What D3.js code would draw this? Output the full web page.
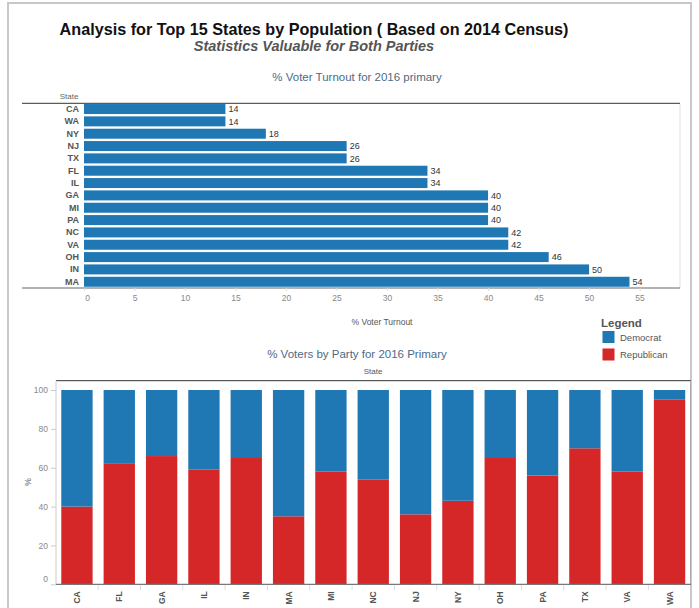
<!DOCTYPE html>
<html>
<head>
<meta charset="utf-8">
<script src="https://cdn.jsdelivr.net/npm/d3@7"></script>
<style>
  html, body { margin: 0; padding: 0; background: #fff; }
  svg { display: block; font-family: "Liberation Sans", Arial, sans-serif; }
</style>
</head>
<body>
<svg id="chart" width="699" height="608"></svg>
<script>
// Turnout chart (sorted ascending by turnout)
const turnoutStates = ["CA","WA","NY","NJ","TX","FL","IL","GA","MI","PA","NC","VA","OH","IN","MA"];
const turnoutValues = [14,14,18,26,26,34,34,40,40,40,42,42,46,50,54];
const turnoutTicks = [0,5,10,15,20,25,30,35,40,45,50,55];

// Party split chart (alphabetical)
const partyStates = ["CA","FL","GA","IL","IN","MA","MI","NC","NJ","NY","OH","PA","TX","VA","WA"];
const republicanPct = [40,62,66,59,65,35,58,54,36,43,65,56,70,58,95];
const democratPct = republicanPct.map(r => 100 - r);
const pctTicks = [0,20,40,60,80,100];

const parties = ["Democrat","Republican"];
const partyColors = ["#1f77b4","#d62728"];

const svg = d3.select("#chart");

// outer frame
svg.append("rect").attr("x", 8).attr("y", 3).attr("width", 683).attr("height", 640)
  .attr("fill", "none").attr("stroke", "#c8c8c8").attr("stroke-width", 2);

// titles
svg.append("text").attr("x", 314).attr("y", 35).attr("text-anchor", "middle")
  .attr("font-size", 16.2).attr("font-weight", "bold").attr("fill", "#111")
  .text("Analysis for Top 15 States by Population ( Based on 2014 Census)");
svg.append("text").attr("x", 314).attr("y", 51).attr("text-anchor", "middle")
  .attr("font-size", 14.5).attr("font-weight", "bold").attr("font-style", "italic").attr("fill", "#555")
  .text("Statistics Valuable for Both Parties");

// ---------- Turnout bar chart ----------
const tx = d3.scaleLinear().domain([0, 59]).range([84, 680]);
const ty = d3.scaleBand().domain(turnoutStates).range([103.3, 287.5]).paddingInner(0.19).paddingOuter(0.06);

svg.append("text").attr("x", 357).attr("y", 81).attr("text-anchor", "middle")
  .attr("font-size", 11.5).attr("fill", "#4e6a85").text("% Voter Turnout for 2016 primary");
svg.append("text").attr("x", 69).attr("y", 99).attr("text-anchor", "middle")
  .attr("font-size", 8).attr("fill", "#666").text("State");

// right edge of pane
svg.append("line").attr("x1", 680).attr("x2", 680).attr("y1", 103.3).attr("y2", 288)
  .attr("stroke", "#e0e0e0");

const tg = svg.append("g");
tg.selectAll("rect").data(turnoutStates).join("rect")
  .attr("x", tx(0)).attr("y", d => ty(d))
  .attr("width", (d, i) => tx(turnoutValues[i]) - tx(0))
  .attr("height", ty.bandwidth())
  .attr("fill", partyColors[0]);
tg.selectAll("text.val").data(turnoutStates).join("text").attr("class", "val")
  .attr("x", (d, i) => tx(turnoutValues[i]) + 3)
  .attr("y", d => ty(d) + ty.bandwidth() / 2)
  .attr("dy", "0.35em").attr("font-size", 9).attr("fill", "#333")
  .text((d, i) => turnoutValues[i]);

// state axis
const yAxisT = d3.axisLeft(ty).tickSize(0).tickPadding(5);
const gyT = svg.append("g").attr("transform", "translate(84,0)").call(yAxisT);
gyT.select(".domain").remove();
gyT.selectAll("text").attr("font-size", 9).attr("font-weight", "bold").attr("fill", "#555")
  .attr("font-family", "Liberation Sans, Arial, sans-serif");

// top and bottom rules
svg.append("line").attr("x1", 22).attr("x2", 680).attr("y1", 103.3).attr("y2", 103.3)
  .attr("stroke", "#333").attr("stroke-width", 1);
svg.append("line").attr("x1", 22).attr("x2", 680).attr("y1", 288).attr("y2", 288)
  .attr("stroke", "#999").attr("stroke-width", 1.5);

// value axis
const xAxisT = d3.axisBottom(tx).tickValues(turnoutTicks).tickSize(3).tickPadding(4);
const gxT = svg.append("g").attr("transform", "translate(0,288)").call(xAxisT);
gxT.select(".domain").remove();
gxT.selectAll(".tick line").attr("stroke", "#ddd");
gxT.selectAll("text").attr("font-size", 8.5).attr("fill", "#888")
  .attr("font-family", "Liberation Sans, Arial, sans-serif");
gxT.selectAll(".tick").filter(d => d === 0).select("text").attr("dx", 3);

svg.append("text").attr("x", 382).attr("y", 325).attr("text-anchor", "middle")
  .attr("font-size", 8.5).attr("fill", "#555").text("% Voter Turnout");

// ---------- Legend ----------
svg.append("text").attr("x", 601).attr("y", 327).attr("font-size", 11.5)
  .attr("font-weight", "bold").attr("fill", "#555").text("Legend");
const lg = svg.append("g");
parties.forEach((p, i) => {
  lg.append("rect").attr("x", 602.5).attr("y", 331 + i * 17.5).attr("width", 12).attr("height", 12)
    .attr("fill", partyColors[i]);
  lg.append("text").attr("x", 620).attr("y", 337.5 + i * 17.5).attr("dy", "0.35em")
    .attr("font-size", 9.5).attr("fill", "#555").text(p);
});

// ---------- Party split stacked bars ----------
svg.append("text").attr("x", 357).attr("y", 358).attr("text-anchor", "middle")
  .attr("font-size", 11.5).attr("fill", "#4e6a85").text("% Voters by Party for 2016 Primary");
svg.append("text").attr("x", 373).attr("y", 374).attr("text-anchor", "middle")
  .attr("font-size", 8).attr("fill", "#555").text("State");

const px = d3.scaleBand().domain(partyStates).range([56, 690.5]).paddingInner(0.26).paddingOuter(0.125);
const py = d3.scaleLinear().domain([0, 100]).range([584.3, 390]);

const rows = partyStates.map((s, i) => ({ state: s, Democrat: democratPct[i], Republican: republicanPct[i] }));
const stack = d3.stack().keys(["Republican", "Democrat"])(rows);
const colorOf = d3.scaleOrdinal().domain(parties).range(partyColors);

svg.append("g").selectAll("g").data(stack).join("g")
  .attr("fill", d => colorOf(d.key))
  .selectAll("rect").data(d => d).join("rect")
  .attr("x", d => px(d.data.state))
  .attr("y", d => py(d[1]))
  .attr("width", px.bandwidth())
  .attr("height", d => py(d[0]) - py(d[1]));

// frame lines of the pane
svg.append("line").attr("x1", 56).attr("x2", 691).attr("y1", 380.7).attr("y2", 380.7)
  .attr("stroke", "#333");
svg.append("line").attr("x1", 56).attr("x2", 56).attr("y1", 380.7).attr("y2", 584.3)
  .attr("stroke", "#ccc");
svg.append("line").attr("x1", 690.5).attr("x2", 690.5).attr("y1", 380.7).attr("y2", 584.3)
  .attr("stroke", "#aaa");

// y axis
const yAxisP = d3.axisLeft(py).tickValues(pctTicks).tickSize(5).tickPadding(3);
const gyP = svg.append("g").attr("transform", "translate(56,0)").call(yAxisP);
gyP.select(".domain").remove();
gyP.selectAll(".tick line").attr("stroke", "#ccc");
gyP.selectAll("text").attr("font-size", 8.5).attr("fill", "#888")
  .attr("font-family", "Liberation Sans, Arial, sans-serif");
gyP.selectAll(".tick").filter(d => d === 0).select("text").attr("dy", "-0.35em");

svg.append("text").attr("transform", "translate(31,482) rotate(-90)").attr("text-anchor", "middle")
  .attr("font-size", 8.5).attr("fill", "#666").text("%");

// x axis with separators between bands
svg.append("line").attr("x1", 56).attr("x2", 691).attr("y1", 584.3).attr("y2", 584.3)
  .attr("stroke", "#777").attr("stroke-width", 1.2);
const seps = partyStates.slice(1).map(s => px(s) - px.step() * px.paddingInner() / 2);
svg.append("g").selectAll("line").data(seps).join("line")
  .attr("x1", d => d).attr("x2", d => d).attr("y1", 585).attr("y2", 590)
  .attr("stroke", "#ddd");

const xAxisP = d3.axisBottom(px).tickSize(0).tickPadding(0);
const gxP = svg.append("g").attr("transform", "translate(0,584.3)").call(xAxisP);
gxP.select(".domain").remove();
gxP.selectAll("text")
  .attr("font-size", 8.5).attr("font-weight", "bold").attr("fill", "#555")
  .attr("font-family", "Liberation Sans, Arial, sans-serif")
  .attr("text-anchor", "end").attr("transform", "rotate(-90)")
  .attr("x", -7).attr("y", 0).attr("dy", "0.35em");
</script>
</body>
</html>
